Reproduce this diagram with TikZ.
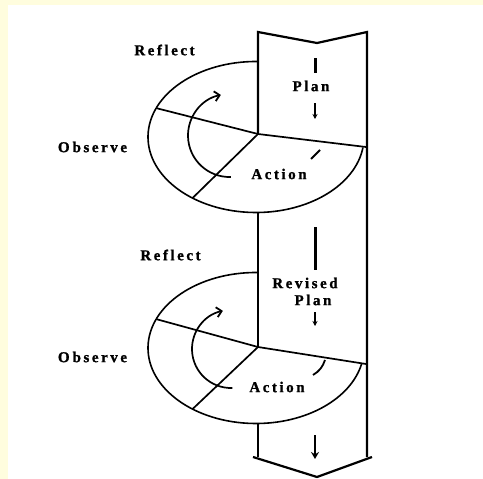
\documentclass[tikz,border=0pt]{standalone}
\usepackage{fontspec}
\newfontfamily\lblfont{Liberation Serif}[LetterSpace=17, BoldFeatures={FakeBold=1.2}]
\usetikzlibrary{arrows.meta,calc}
\definecolor{bgyel}{RGB}{255,253,222}
\begin{document}
\begin{tikzpicture}[x=1pt,y=1pt,
  lbl/.style={font=\lblfont\bfseries\fontsize{15}{17}\selectfont, inner sep=0pt},
  colline/.style={line width=2.2pt},
  ellline/.style={line width=1.6pt},
  spoke/.style={line width=1.7pt},
  cyc/.style={line width=1.7pt,-{Straight Barb[length=5pt,width=10pt,line width=1.8pt]}},
  bar/.style={line width=3pt},
  smallarrow/.style={line width=1.4pt,-{Stealth[length=5pt,width=5pt]}},
  bigarrow/.style={line width=2.6pt,-{Stealth[length=7pt,width=8pt]}},
  tick/.style={line width=1.8pt}
]
\useasboundingbox (0,0) rectangle (483,-479);
\fill[white] (0,0) rectangle (483,-479);
\fill[bgyel] (0,0) rectangle (8,-479);
\fill[bgyel] (0,0) rectangle (483,-5);

% column
\coordinate (tl) at (258,-32);
\coordinate (tn) at (317,-43);
\coordinate (tr) at (367,-32);
\coordinate (br) at (367,-457);
\coordinate (bl) at (258,-457);
\coordinate (cbl) at (253,-457);
\coordinate (cbt) at (317,-477);
\coordinate (cbr) at (372,-457);
\coordinate (c1) at (258,-134);
\coordinate (m1) at (258,-213);
\coordinate (c2) at (258,-347);
\coordinate (m2) at (258,-423);
\draw[colline] (c1) -- (tl) -- (tn) -- (tr) -- (br);
\draw[colline] (m1) -- (c2);
\draw[colline] (m2) -- (bl);
\draw[colline] (cbl) -- (cbt) -- (cbr);

% first cycle
\coordinate (e1) at (256,-137);
\coordinate (r1) at (366,-147);
\coordinate (ul1) at ($(e1)+(157.5:108pt and 75.5pt)$);
\coordinate (ll1) at ($(e1)+(234:108pt and 75.5pt)$);
\draw[ellline] (e1) ++(89:108pt and 75.5pt) arc[start angle=89,end angle=352,x radius=108pt,y radius=75.5pt];
\draw[spoke] (ul1) -- (c1) -- (r1);
\draw[spoke] (c1) -- (ll1);
\coordinate (a1) at (229.5,-135.5);
\draw[cyc] (a1) ++(272:41.5pt) arc[start angle=272,end angle=102,radius=41.5pt];
\coordinate (b1s) at (315,-58);
\coordinate (b1e) at (315,-73);
\draw[bar] (b1s) -- (b1e);
\coordinate (s1s) at (315,-103);
\coordinate (s1e) at (315,-119);
\draw[smallarrow] (s1s) -- (s1e);
\coordinate (t1s) at (311,-159);
\coordinate (t1e) at (320,-150);
\draw[tick] (t1s) -- (t1e);

\node[lbl] (reflect1) at (164.5,-50) {Reflect};
\node[lbl] (observe1) at (92.5,-147) {O\hspace{3pt}bserve};
\node[lbl] (plan1) at (311,-86) {Plan};
\node[lbl] (action1) at (279,-174) {Action};

% second cycle
\coordinate (e2) at (256,-348);
\coordinate (r2) at (366,-364);
\coordinate (ul2) at ($(e2)+(157.5:108pt and 75.5pt)$);
\coordinate (ll2) at ($(e2)+(234:108pt and 75.5pt)$);
\draw[ellline] (e2) ++(89:108pt and 75.5pt) arc[start angle=89,end angle=348,x radius=108pt,y radius=75.5pt];
\draw[spoke] (ul2) -- (c2) -- (r2);
\draw[spoke] (c2) -- (ll2);
\coordinate (a2) at (231,-349);
\draw[cyc] (a2) ++(272:39pt) arc[start angle=272,end angle=102,radius=39pt];
\coordinate (b2s) at (315,-227);
\coordinate (b2e) at (315,-270);
\draw[bar] (b2s) -- (b2e);
\coordinate (s2s) at (315,-312);
\coordinate (s2e) at (315,-326);
\draw[smallarrow] (s2s) -- (s2e);
\coordinate (t2s) at (313,-375);
\coordinate (t2e) at (325,-360);
\draw[tick] (t2s) to[bend right=20] (t2e);
\coordinate (d2s) at (315,-435);
\coordinate (d2e) at (315,-459);
\draw[bigarrow] (d2s) -- (d2e);

\node[lbl] (reflect2) at (170.5,-255) {Reflect};
\node[lbl] (observe2) at (92.5,-357) {O\hspace{3pt}bserve};
\node[lbl] (revised) at (305,-283) {Revised};
\node[lbl] (plan2) at (313,-300) {Plan};
\node[lbl] (action2) at (277,-387) {Action};
\end{tikzpicture}
\end{document}
